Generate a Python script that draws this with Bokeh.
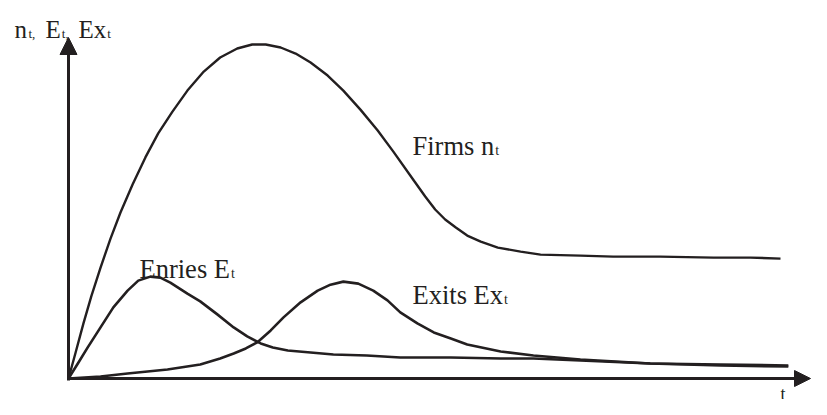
from bokeh.plotting import figure
from bokeh.models import Range1d, Label, Arrow, NormalHead
from bokeh.embed import file_html
from bokeh.resources import INLINE

# ---- data (t in arbitrary time units) ----
firms_t = [0, 0.10, 0.21, 0.32, 0.45, 0.59, 0.73, 0.90, 1.08, 1.26, 1.46, 1.67, 1.90, 2.13,
           2.37, 2.58, 2.77, 2.98, 3.19, 3.40, 3.64, 3.86, 4.10, 4.34, 4.56, 4.85, 5.01, 5.15,
           5.29, 5.44, 5.60, 5.79, 6.03, 6.35, 6.63, 7.19, 7.65, 8.31, 9.06, 9.58, 10.0]
firms_n = [0, 0.78, 1.65, 2.46, 3.32, 4.19, 4.97, 5.81, 6.62, 7.34, 7.99, 8.62, 9.19, 9.61,
           9.88, 10.0, 10.0, 9.91, 9.73, 9.46, 9.07, 8.62, 8.05, 7.43, 6.80, 5.93, 5.45, 5.06,
           4.76, 4.52, 4.28, 4.10, 3.92, 3.80, 3.71, 3.68, 3.65, 3.65, 3.62, 3.62, 3.59]

entries_t = [0, 0.14, 0.27, 0.45, 0.63, 0.83, 0.98, 1.15, 1.29, 1.43, 1.67, 1.85, 2.09, 2.32,
             2.51, 2.70, 2.87, 3.08, 3.40, 3.72, 4.19, 4.66, 5.37, 6.07, 6.53, 7.19, 8.17,
             9.16, 10.11]
entries_e = [0, 0.48, 0.93, 1.53, 2.13, 2.63, 2.93, 3.05, 3.02, 2.87, 2.54, 2.31, 1.92, 1.53,
             1.26, 1.05, 0.93, 0.84, 0.78, 0.72, 0.69, 0.63, 0.63, 0.60, 0.60, 0.54, 0.45,
             0.42, 0.39]

exits_t = [0, 0.45, 0.83, 1.39, 1.85, 2.13, 2.32, 2.49, 2.65, 2.84, 3.02, 3.26, 3.50, 3.68,
           3.86, 4.07, 4.28, 4.48, 4.66, 4.90, 5.13, 5.37, 5.60, 6.07, 6.53, 7.19, 8.17,
           9.16, 10.11]
exits_x = [0, 0.06, 0.15, 0.27, 0.42, 0.60, 0.75, 0.90, 1.08, 1.44, 1.83, 2.28, 2.63, 2.81,
           2.90, 2.84, 2.63, 2.34, 1.98, 1.65, 1.38, 1.20, 1.02, 0.81, 0.69, 0.57, 0.45,
           0.39, 0.36]

INK = "#231f20"
SERIF = "Liberation Serif"

# Times / Liberation Serif advance widths (em) used to butt subscripts against text
ADV = {"F": 0.556, "i": 0.278, "r": 0.333, "m": 0.778, "s": 0.389, " ": 0.25,
       "n": 0.5, "E": 0.611, "x": 0.5, "t": 0.278, "e": 0.444, ",": 0.25}

# pixel -> data helpers (origin of the drawn axes and scale of the picture)
OX, OY, SX, SY = 68.0, 378.0, 71.2, 33.4
W, H = 811, 399


def X(px):
    return (px - OX) / SX


def Y(py):
    return (OY - py) / SY


p = figure(width=W, height=H, output_backend="svg", toolbar_location=None,
           x_range=Range1d(X(0), X(W)), y_range=Range1d(Y(H), Y(0)),
           x_axis_type=None, y_axis_type=None, min_border=0)
p.min_border_left = p.min_border_right = p.min_border_top = p.min_border_bottom = 0
p.outline_line_color = None
p.background_fill_color = "white"
p.border_fill_color = "white"

# curves
p.line(firms_t, firms_n, line_color=INK, line_width=2.4, line_join="round")
p.line(entries_t, entries_e, line_color=INK, line_width=2.6, line_join="round")
p.line(exits_t, exits_x, line_color=INK, line_width=2.6, line_join="round")

# axes with arrow heads
p.add_layout(Arrow(end=NormalHead(size=17, fill_color=INK, line_color=INK, line_width=1),
                   x_start=0, y_start=Y(380), x_end=0, y_end=Y(37),
                   line_color=INK, line_width=3))
p.add_layout(Arrow(end=NormalHead(size=16, fill_color=INK, line_color=INK, line_width=1),
                   x_start=X(67), y_start=0, x_end=X(810), y_end=0,
                   line_color=INK, line_width=3))


def lab(text, px, py, size, baseline="alphabetic"):
    p.add_layout(Label(x=X(px), y=Y(py), text=text, text_font=SERIF,
                       text_font_size="%spx" % size, text_color=INK,
                       text_baseline=baseline, text_align="left"))


def sub_label(main, sub, px, py, size, sub_size, gap=1.0, drop=5):
    lab(main, px, py, size)
    wdt = sum(ADV.get(c, 0.5) for c in main) * size
    lab(sub, px + wdt + gap, py + drop, sub_size)


# axis title  n_t, E_t, Ex_t
sub_label("n", "t,", 14, 29, 25, 13, gap=1.5, drop=4)
sub_label("E", "t,", 45, 29, 25, 13, gap=1.0, drop=4)
sub_label("Ex", "t", 78, 29, 25, 13, gap=1.0, drop=4)

# curve labels
sub_label("Firms n", "t", 412, 145, 26.5, 14)
sub_label("Enries E", "t", 139, 268, 26.5, 14)
sub_label("Exits Ex", "t", 412, 294, 26.5, 14)

# x axis title, kept clear of the arrow head and the canvas edges
lab("t", 780, 383, 18, baseline="top")

open("out.html", "w").write(file_html(p, INLINE))
